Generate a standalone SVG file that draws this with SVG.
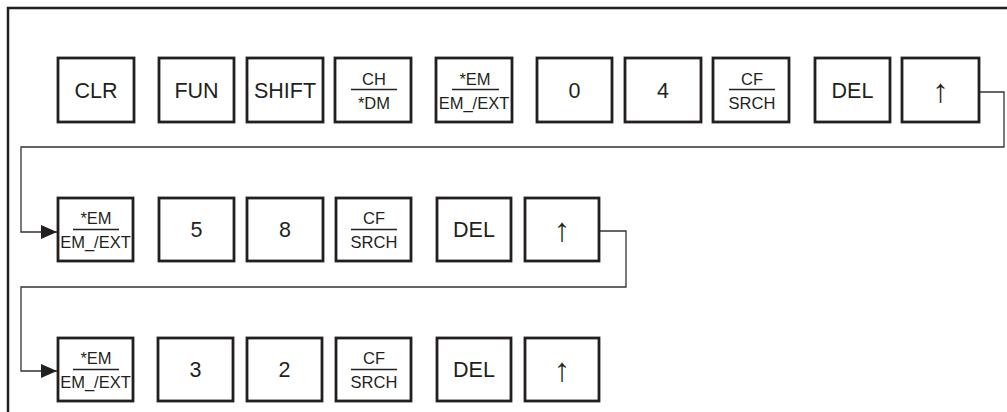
<svg xmlns="http://www.w3.org/2000/svg" width="1007" height="412" viewBox="0 0 1007 412">
<style>
.k{fill:#fff;stroke:#231f20;stroke-width:2.8}
.t{font-family:"Liberation Sans",Arial,sans-serif;font-size:21.5px;fill:#231f20;text-anchor:middle}
.f{font-family:"Liberation Sans",Arial,sans-serif;font-size:16.5px;fill:#231f20;text-anchor:middle}
.a{font-family:"Liberation Sans",sans-serif;font-size:33px;fill:#231f20;text-anchor:middle}
.fl{stroke:#231f20;stroke-width:1.3}
.c{fill:none;stroke:#333;stroke-width:1.3}
</style>
<defs>
<marker id="ah" markerWidth="16" markerHeight="14" refX="16" refY="7" orient="auto" markerUnits="userSpaceOnUse">
<path d="M0,0 L16,7 L0,14 Z" fill="#231f20"/>
</marker>
</defs>
<path d="M8,412 V8 H1007" fill="none" stroke="#231f20" stroke-width="2.5"/>
<g id="connectors">
<path class="c" d="M979,92 H1004 V147 H21 V232 H57" marker-end="url(#ah)"/>
<path class="c" d="M599,231 H626 V287 H21 V371 H57" marker-end="url(#ah)"/>
</g>
<g id="r1-clr"><rect class="k" x="58" y="58" width="76" height="64"/><text class="t" x="96" y="98">CLR</text></g>
<g id="r1-fun"><rect class="k" x="159" y="58" width="75" height="64"/><text class="t" x="196.5" y="98">FUN</text></g>
<g id="r1-shift"><rect class="k" x="247" y="58" width="76" height="64"/><text class="t" x="285" y="98">SHIFT</text></g>
<g id="r1-ch"><rect class="k" x="335" y="58" width="76" height="64"/><text class="f" x="374" y="85">CH</text><line class="fl" x1="351" y1="89.5" x2="397" y2="89.5"/><text class="f" x="374" y="109">*DM</text></g>
<g id="r1-em"><rect class="k" x="436" y="58" width="76" height="64"/><text class="f" x="475" y="85">*EM</text><line class="fl" x1="452" y1="89.5" x2="499" y2="89.5"/><text class="f" x="474" y="109">EM_/EXT</text></g>
<g id="r1-0"><rect class="k" x="537" y="58" width="75" height="64"/><text class="t" x="574.5" y="98">0</text></g>
<g id="r1-4"><rect class="k" x="625" y="58" width="76" height="64"/><text class="t" x="663" y="98">4</text></g>
<g id="r1-cf"><rect class="k" x="713" y="58" width="76" height="64"/><text class="f" x="752" y="85">CF</text><line class="fl" x1="729" y1="89.5" x2="775" y2="89.5"/><text class="f" x="752" y="109">SRCH</text></g>
<g id="r1-del"><rect class="k" x="815" y="58" width="75" height="64"/><text class="t" x="852.5" y="98">DEL</text></g>
<g id="r1-up"><rect class="k" x="902" y="58" width="77" height="64"/><text class="a" x="940.5" y="102">↑</text></g>

<g id="r2-em"><rect class="k" x="58" y="198" width="75" height="63"/><text class="f" x="96" y="224">*EM</text><line class="fl" x1="73" y1="229.5" x2="119" y2="229.5"/><text class="f" x="95.5" y="248">EM_/EXT</text></g>
<g id="r2-5"><rect class="k" x="159" y="198" width="75" height="63"/><text class="t" x="196.5" y="237">5</text></g>
<g id="r2-8"><rect class="k" x="247" y="198" width="76" height="63"/><text class="t" x="285" y="237">8</text></g>
<g id="r2-cf"><rect class="k" x="336" y="198" width="75" height="63"/><text class="f" x="374" y="224">CF</text><line class="fl" x1="351" y1="229.5" x2="397" y2="229.5"/><text class="f" x="374" y="248">SRCH</text></g>
<g id="r2-del"><rect class="k" x="437" y="198" width="74" height="63"/><text class="t" x="474" y="237">DEL</text></g>
<g id="r2-up"><rect class="k" x="525" y="198" width="74" height="63"/><text class="a" x="562" y="241">↑</text></g>

<g id="r3-em"><rect class="k" x="58" y="338" width="75" height="63"/><text class="f" x="96" y="364">*EM</text><line class="fl" x1="73" y1="369.5" x2="119" y2="369.5"/><text class="f" x="95.5" y="388">EM_/EXT</text></g>
<g id="r3-3"><rect class="k" x="158" y="338" width="75" height="63"/><text class="t" x="195.5" y="377">3</text></g>
<g id="r3-2"><rect class="k" x="247" y="338" width="75" height="63"/><text class="t" x="284.5" y="377">2</text></g>
<g id="r3-cf"><rect class="k" x="336" y="338" width="75" height="63"/><text class="f" x="374" y="364">CF</text><line class="fl" x1="351" y1="369.5" x2="397" y2="369.5"/><text class="f" x="374" y="388">SRCH</text></g>
<g id="r3-del"><rect class="k" x="437" y="338" width="74" height="63"/><text class="t" x="474" y="377">DEL</text></g>
<g id="r3-up"><rect class="k" x="525" y="338" width="74" height="63"/><text class="a" x="562" y="381">↑</text></g>
</svg>
